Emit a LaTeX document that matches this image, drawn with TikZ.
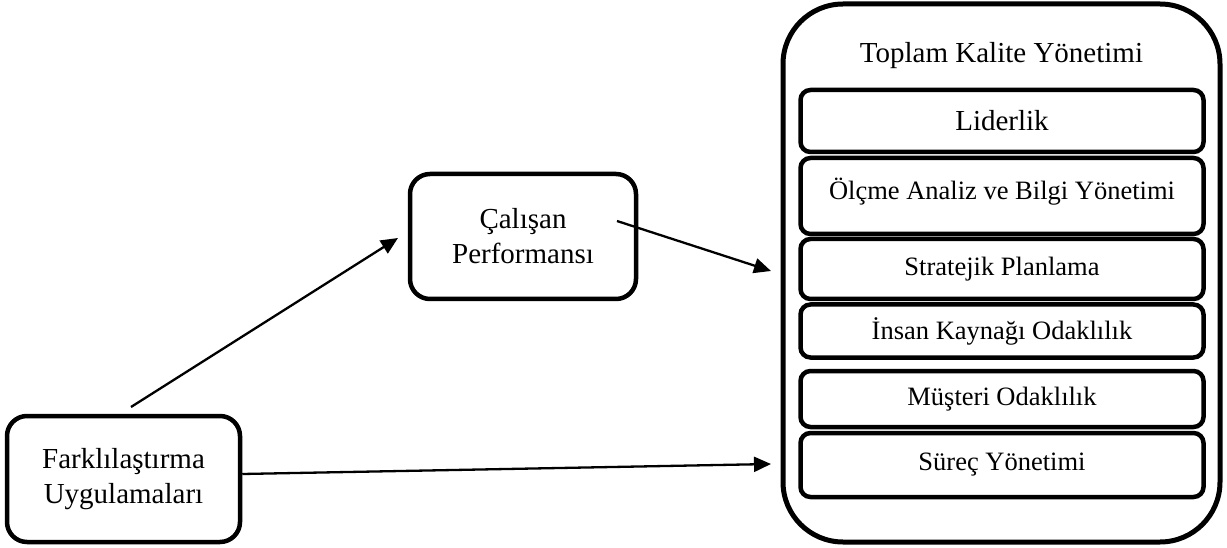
\documentclass[tikz,border=0pt]{standalone}
\usepackage{fontspec}
\setmainfont{Liberation Serif}
\usetikzlibrary{arrows.meta}
\begin{document}
\begin{tikzpicture}[x=1pt,y=-1pt,
  box/.style={draw, line width=4.5pt, rounded corners=20pt, align=center, inner sep=0pt},
  inbox/.style={draw, line width=4.5pt, rounded corners=10pt, inner sep=0pt, minimum width=403pt},
  conn/.style={line width=2.3pt, -{Triangle[length=17pt,width=15pt]}},
  big/.style={font=\fontsize{29}{35}\selectfont},
  small/.style={font=\fontsize{26.5}{32}\selectfont}]
\useasboundingbox (0,0) rectangle (1227,548);
% outer TQM box
\node[draw, line width=5pt, rounded corners=60pt, minimum width=437pt, minimum height=538pt, inner sep=0pt] (tkm) at (1001.5,273) {};
\node[big] (title) at (1001.5,56) {Toplam Kalite Yönetimi};
\node[inbox, minimum height=62pt, big] (lid) at (1002,121) {Liderlik};
\node[inbox, minimum height=76pt, small] (olc) at (1002,196) {\raisebox{14pt}{Ölçme Analiz ve Bilgi Yönetimi}};
\node[inbox, minimum height=60pt, small] (str) at (1002,269) {Stratejik Planlama};
\node[inbox, minimum height=53pt, small] (ins) at (1002,331) {İnsan Kaynağı Odaklılık};
\node[inbox, minimum height=56pt, small] (mus) at (1002,399) {Müşteri Odaklılık};
\node[inbox, minimum height=64pt, small] (sur) at (1002,465) {Süreç Yönetimi};
% left boxes
\node[box, big, minimum width=226pt, minimum height=125pt] (cal) at (523,236.5) {Çalışan\\Performansı};
\node[box, big, minimum width=233pt, minimum height=126pt] (far) at (123.5,479) {Farklılaştırma\\Uygulamaları};
% connector ends
\coordinate (a1s) at (131,407);
\coordinate (a1e) at (398,238);
\coordinate (a2s) at (617,221);
\coordinate (a2e) at (771,271);
\coordinate (a3e) at (771,464);
\draw[conn] (a1s) -- (a1e);
\draw[conn] (a2s) -- (a2e);
\draw[conn] (far.east |- 0,474) -- (a3e);
\end{tikzpicture}
\end{document}
